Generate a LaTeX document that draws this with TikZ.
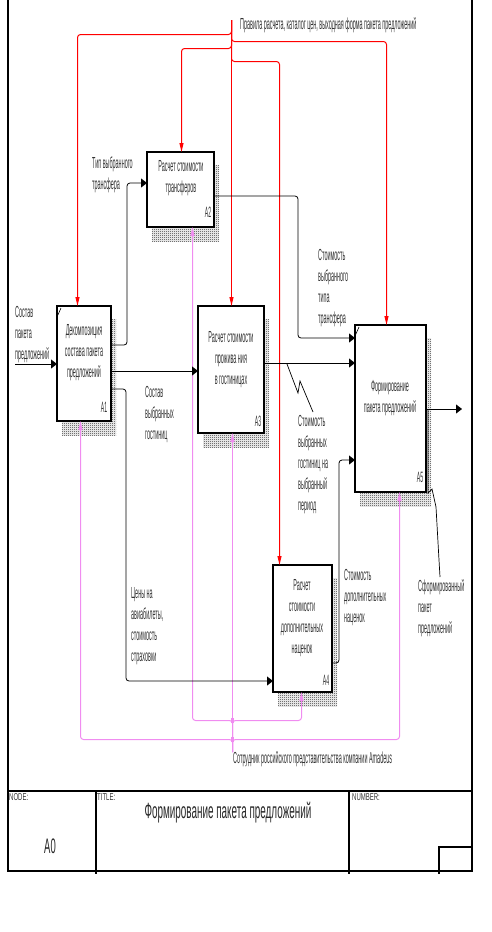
\documentclass[tikz,border=0pt]{standalone}
\usepackage{fontspec}
\setmainfont{Liberation Sans}
\newfontfamily\nf[FakeStretch=0.34]{Liberation Sans}
\newfontfamily\tf[FakeStretch=0.45]{Liberation Sans}
\newfontfamily\smf[FakeStretch=0.6]{Liberation Sans}
\usetikzlibrary{arrows.meta,patterns,calc,backgrounds}
\definecolor{ctlred}{RGB}{255,0,0}
\definecolor{mechpink}{RGB}{240,140,240}
\pgfdeclarepatternformonly{checker}{\pgfpointorigin}{\pgfpoint{2pt}{2pt}}{\pgfpoint{2pt}{2pt}}{%
  \pgfpathrectangle{\pgfpoint{0pt}{0pt}}{\pgfpoint{1pt}{1pt}}%
  \pgfpathrectangle{\pgfpoint{1pt}{1pt}}{\pgfpoint{1pt}{1pt}}%
  \pgfusepath{fill}}
\newcommand\shd[1]{\fill[pattern=checker,pattern color=black!85] ($(#1.north west)+(5,13)$) rectangle ($(#1.south east)+(5,14)$);}
\begin{document}
\begin{tikzpicture}[x=1pt,y=-1pt,
  frame/.style={line width=1.3pt,black},
  box/.style={draw,line width=1.1pt,fill=white,inner sep=0pt,outer sep=0pt},
  lbl/.style={font=\nf\fontsize{16}{21}\selectfont,text=black!80,inner sep=0pt,align=left,anchor=north west},
  btxt/.style={font=\nf\fontsize{16}{21}\selectfont,text=black!80,inner sep=0pt,align=center,anchor=north},
  bnum/.style={font=\nf\fontsize{15}{16}\selectfont,text=black!80,inner sep=0pt},
  arr/.style={draw=black,line width=0.8pt,rounded corners=3pt,-{Triangle[length=6pt,width=9pt]}},
  ctl/.style={draw=ctlred,line width=1pt,rounded corners=3pt,-{Triangle[length=9pt,width=4pt]}},
  mech/.style={draw=mechpink,line width=1pt,rounded corners=3pt,-{Triangle[length=9pt,width=4pt]}},
  lead/.style={draw=black,line width=0.7pt},
  small/.style={font=\smf\fontsize{10}{12}\selectfont,text=black!80,inner sep=0pt,anchor=west}]
\useasboundingbox (0,0) rectangle (491,932);

% frame
\draw[frame] (8,0) -- (8,871) -- (472,871) -- (472,0);
\draw[frame] (8,791) -- (472,791);
\draw[frame] (96,791) -- (96,874);
\draw[frame] (349,791) -- (349,874);
\draw[frame] (439,874) -- (439,847) -- (472,847);

\node[small] (nodelbl) at (9,797) {NODE:};
\node[small] (titlelbl) at (97,797) {TITLE:};
\node[small] (numlbl) at (352,797) {NUMBER:};
\node[font=\tf\fontsize{21}{24}\selectfont,text=black!85,inner sep=0pt] (nodeno) at (50,846) {A0};
\node[font=\tf\fontsize{22}{26}\selectfont,text=black!85,inner sep=0pt] (title) at (228,813) {Формирование пакета предложений};

% boxes
\node[box,minimum width=54pt,minimum height=115pt] (A1) at (84,363.5) {};
\node[box,minimum width=67pt,minimum height=75pt] (A2) at (180.5,189.5) {};
\node[box,minimum width=66pt,minimum height=127pt] (A3) at (231,369.5) {};
\node[box,minimum width=59pt,minimum height=127pt] (A4) at (302.5,628.5) {};
\node[box,minimum width=71pt,minimum height=167pt] (A5) at (390.5,408.5) {};
\begin{scope}[on background layer]
\shd{A1}\shd{A2}\shd{A3}\shd{A4}\shd{A5}
\end{scope}
\draw[line width=0.6pt] ($(A1.north west)+(0,11)$) -- ($(A1.north west)+(4,2)$);
\draw[line width=0.6pt] ($(A5.north west)+(0,11)$) -- ($(A5.north west)+(4,2)$);

% box texts
\node[btxt] (A1t) at (84,324) {Декомпозиция\\состава пакета\\предложений};
\node[btxt] (A2t) at (181,160) {Расчет стоимости\\трансферов};
\node[btxt] (A3t) at (231,331) {Расчет стоимости\\прожива ния\\в гостиницах};
\node[btxt] (A4t) at (302,579) {Расчет\\стоимости\\дополнительных\\наценок};
\node[btxt] (A5t) at (390,380) {Формирование\\пакета предложений};
\node[bnum] (A1n) at (104,407) {A1};
\node[bnum] (A2n) at (208,212) {A2};
\node[bnum] (A3n) at (258,421) {A3};
\node[bnum] (A4n) at (326,680) {A4};
\node[bnum] (A5n) at (420,477) {A5};

% controls
\coordinate (ctop) at (231.5,20);
\coordinate (k1) at (77.5,34.5);
\coordinate (k5) at (386.5,41.5);
\coordinate (k2) at (181.5,48.5);
\coordinate (k4) at (279.5,61.5);
\draw[ctl] (ctop) |- (k1) -- (A1.north -| k1);
\draw[ctl] (ctop) |- (k5) -- (A5.north -| k5);
\draw[ctl] (ctop) |- (k2) -- (A2.north -| k2);
\draw[ctl] (ctop) |- (k4) -- (A4.north -| k4);
\draw[ctl] (ctop) -- (A3.north -| ctop);
\node[lbl,anchor=north west] (ctllbl) at (240,17) {Правила расчета, каталог цен, выходная форма пакета предложений};

% mechanisms
\coordinate (mbot) at (232.5,752);
\coordinate (m1) at (80.5,739.5);
\coordinate (m5) at (399.5,739.5);
\coordinate (m2) at (192.5,720.5);
\coordinate (m4) at (301.5,720.5);
\draw[mech] (mbot) -- (A3.south -| mbot);
\draw[mech] (mbot) |- (m1) -- (A1.south -| m1);
\draw[mech] (mbot) |- (m5) -- (A5.south -| m5);
\draw[mech] (mbot) |- (m2) -- (A2.south -| m2);
\draw[mech] (mbot) |- (m4) -- (A4.south -| m4);
\fill[mechpink] ($(mbot|-m1)+(-1.6,-2.5)$) rectangle ($(mbot|-m1)+(1.6,2.5)$);
\fill[mechpink] ($(mbot|-m2)+(-1.6,-2.5)$) rectangle ($(mbot|-m2)+(1.6,2.5)$);
\node[lbl] (mechlbl) at (233,751) {Сотрудник российского представительства компании Amadeus};

% input
\coordinate (in0) at (15,364);
\draw[arr] (in0) -- (A1.west |- in0);
\node[lbl] (inlbl) at (15,306) {Состав\\пакета\\предложений};

% A1 -> A2
\coordinate (o12a) at (127,345);
\coordinate (o12b) at (127,183);
\draw[arr] (A1.east |- o12a) -- (o12a) -- (o12b) -- (A2.west |- o12b);
\node[lbl] (l12) at (92,157) {Тип выбранного\\трансфера};

% A1 -> A3
\coordinate (o13) at (150,371);
\draw[arr] (A1.east |- o13) -- (A3.west |- o13);
\node[lbl] (l13) at (145,386) {Состав\\выбранных\\гостиниц};

% A1 -> A4
\coordinate (o14a) at (126,389);
\coordinate (o14b) at (126,681);
\draw[arr] (A1.east |- o14a) -- (o14a) -- (o14b) -- (A4.west |- o14b);
\node[lbl] (l14) at (131,587) {Цены на\\авиабилеты,\\стоимость\\страховки};

% A2 -> A5
\coordinate (o25a) at (298,196);
\coordinate (o25b) at (298,338);
\draw[arr] (A2.east |- o25a) -- (o25a) -- (o25b) -- (A5.west |- o25b);
\node[lbl] (l25) at (318,249) {Стоимость\\выбранного\\типа\\трансфера};

% A3 -> A5
\coordinate (o35) at (300,363);
\draw[arr] (A3.east |- o35) -- (A5.west |- o35);
\coordinate (s35a) at (287,364);
\coordinate (s35b) at (298,393);
\coordinate (s35c) at (300,381);
\coordinate (s35d) at (313,412);
\draw[lead] (s35a) -- (s35b) -- (s35c) -- (s35d);
\node[lbl] (l35) at (298,415) {Стоимость\\выбранных\\гостиниц на\\выбранный\\период};

% A4 -> A5
\coordinate (o45a) at (339,663);
\coordinate (o45b) at (339,460);
\draw[arr] (A4.east |- o45a) -- (o45a) -- (o45b) -- (A5.west |- o45b);
\node[lbl] (l45) at (344,569) {Стоимость\\дополнительных\\наценок};

% A5 output
\coordinate (o5) at (462,409);
\draw[arr] (A5.east |- o5) -- (o5);
\coordinate (s5a) at (428,409);
\coordinate (s5b) at (428,493);
\coordinate (s5c) at (432,489);
\coordinate (s5d) at (436,507);
\coordinate (s5e) at (439,560);
\coordinate (s5f) at (440,577);
\draw[lead] (s5a) -- (s5b) -- (s5c) -- (s5d) -- (s5e) -- (s5f);
\node[lbl] (l5) at (418,579) {Сформированный\\пакет\\предложений};
\end{tikzpicture}
\end{document}
